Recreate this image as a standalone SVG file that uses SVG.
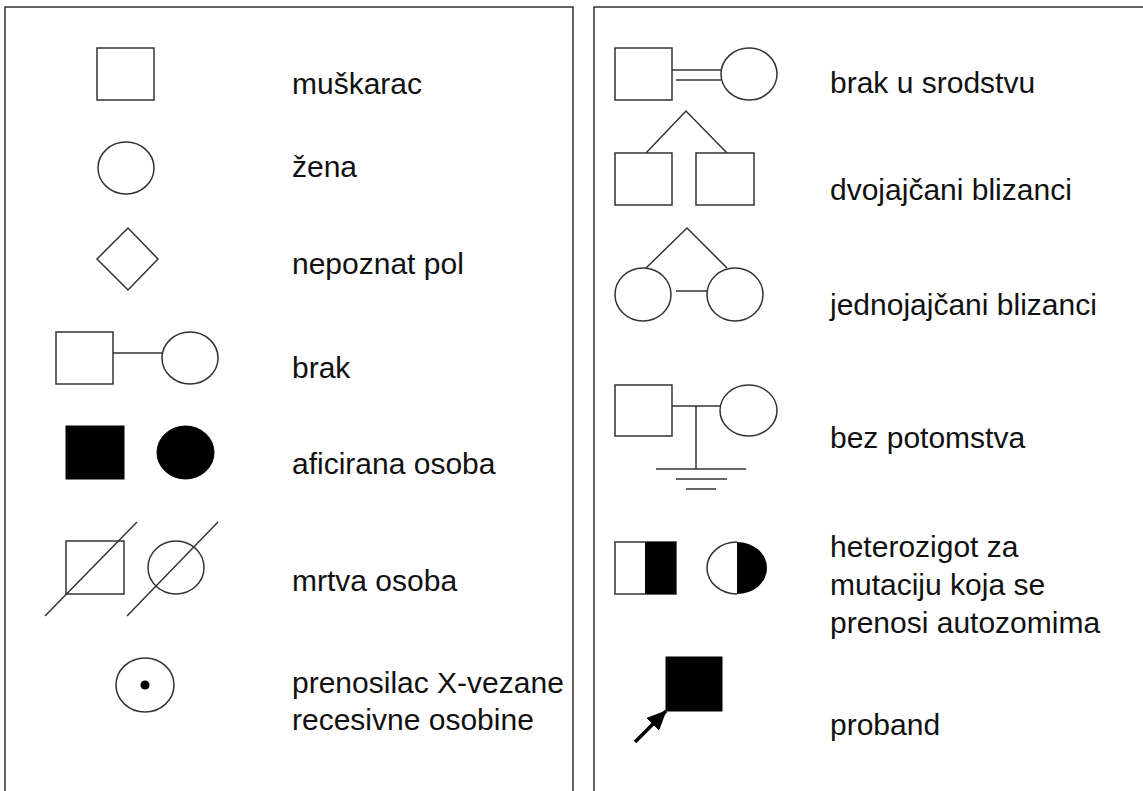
<svg xmlns="http://www.w3.org/2000/svg" width="1143" height="791" viewBox="0 0 1143 791">
<style>
.s{fill:#fff;stroke:#333;stroke-width:1.5}
.f{fill:#000;stroke:#000;stroke-width:1}
.l{fill:none;stroke:#333;stroke-width:1.5}
text{font-family:"Liberation Sans",Arial,sans-serif;font-size:30px;fill:#111}
</style>
<defs>
<marker id="ah" markerWidth="22" markerHeight="20" refX="19" refY="9" orient="auto" markerUnits="userSpaceOnUse"><path d="M0,0 L20,9 L0,18 Z" fill="#000"/></marker>
</defs>
<rect width="1143" height="791" fill="#fff"/>
<g id="panels">
<path class="l" d="M5,791 V7 H573 V791"/>
<path class="l" d="M594,791 V7 H1143"/>
</g>
<g id="male"><rect class="s" x="97" y="48" width="57" height="52"/><text x="292" y="94">muškarac</text></g>
<g id="female"><ellipse class="s" cx="126" cy="168" rx="28" ry="26"/><text x="292" y="177">žena</text></g>
<g id="unknown"><path class="s" d="M128,228 L158,259 L128,290 L97,259 Z"/><text x="292" y="274">nepoznat pol</text></g>
<g id="marriage"><rect class="s" x="56" y="332" width="57" height="52"/><line class="l" x1="113" y1="353" x2="162" y2="353"/><ellipse class="s" cx="190" cy="358" rx="28" ry="26"/><text x="292" y="378">brak</text></g>
<g id="affected"><rect class="f" x="66" y="426" width="58" height="53"/><ellipse class="f" cx="185.5" cy="452.5" rx="28.5" ry="26.5"/><text x="292" y="474">aficirana osoba</text></g>
<g id="deceased"><rect class="s" x="66" y="541" width="58" height="53"/><line class="l" x1="45" y1="616" x2="137" y2="522"/><ellipse class="s" cx="176" cy="567.5" rx="28" ry="26.5"/><line class="l" x1="127" y1="616" x2="218" y2="522"/><text x="292" y="591">mrtva osoba</text></g>
<g id="carrier"><ellipse class="s" cx="145" cy="685" rx="29" ry="27"/><circle cx="145" cy="685" r="4.5" fill="#000"/><text x="292" y="693">prenosilac X-vezane</text><text x="292" y="730">recesivne osobine</text></g>
<g id="consanguineous"><rect class="s" x="615" y="48" width="57" height="52"/><line class="l" x1="672" y1="70" x2="721" y2="70"/><line class="l" x1="676" y1="80" x2="721" y2="80"/><ellipse class="s" cx="749" cy="74" rx="28" ry="26"/><text x="830" y="93">brak u srodstvu</text></g>
<g id="dizygotic"><path class="l" d="M646,153 L686,111 L727,153"/><rect class="s" x="615" y="153" width="57" height="52"/><rect class="s" x="696" y="153" width="58" height="52"/><text x="830" y="200">dvojajčani blizanci</text></g>
<g id="monozygotic"><path class="l" d="M646,268 L687,228 L727,268"/><ellipse class="s" cx="643" cy="294.5" rx="28" ry="26.5"/><ellipse class="s" cx="735" cy="294.5" rx="28" ry="26.5"/><line class="l" x1="676" y1="291" x2="707" y2="291"/><text x="830" y="315">jednojajčani blizanci</text></g>
<g id="childless"><rect class="s" x="615" y="385" width="57" height="51"/><line class="l" x1="672" y1="406" x2="720" y2="406"/><ellipse class="s" cx="748.5" cy="410.5" rx="28.5" ry="25.5"/><line class="l" x1="696" y1="406" x2="696" y2="469"/><line class="l" x1="656" y1="469" x2="746" y2="469"/><line class="l" x1="676" y1="479" x2="727" y2="479"/><line class="l" x1="686" y1="489" x2="716" y2="489"/><text x="830" y="448">bez potomstva</text></g>
<g id="heterozygote"><rect class="s" x="615" y="542" width="61" height="52"/><rect x="645" y="542" width="31" height="52" fill="#000"/><path class="s" d="M737,542 A30,26 0 0 0 737,594"/><path d="M737,542 A30,26 0 0 1 737,594 Z" fill="#000"/><text x="830" y="557">heterozigot za</text><text x="830" y="595">mutaciju koja se</text><text x="830" y="633">prenosi autozomima</text></g>
<g id="proband"><rect class="f" x="666" y="657" width="56" height="54"/><text x="830" y="735">proband</text></g>
<g id="connectors"><line x1="635" y1="742" x2="666" y2="711" stroke="#000" stroke-width="3.5" marker-end="url(#ah)"/></g>
</svg>
